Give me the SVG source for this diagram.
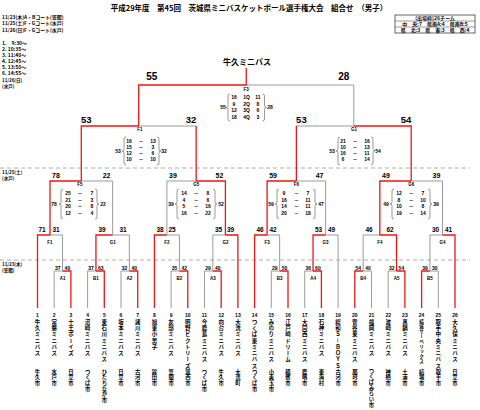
<svg xmlns="http://www.w3.org/2000/svg" width="480" height="410" viewBox="0 0 480 410">
<style>
.r{stroke:#f01414;stroke-width:1.3;fill:none}
.g{stroke:#9a9a9a;stroke-width:1;fill:none}
.d{stroke:#999;stroke-width:0.8;stroke-dasharray:4 3;fill:none}
.br{stroke:#555;stroke-width:0.6;fill:none}
.n{font-family:"Liberation Sans","Noto Sans CJK JP",sans-serif;font-weight:bold;fill:#000;text-anchor:middle}
.j{font-family:"Noto Sans CJK JP","Noto Sans CJK SC",sans-serif;font-weight:bold;fill:#000}
.s10{font-size:10px}.s9{font-size:9.5px}.s7{font-size:7px}.s65{font-size:6.5px}.s5{font-size:5px}.s45{font-size:4.5px}
.v{writing-mode:vertical-rl;font-size:5.5px;letter-spacing:0.75px}
.c{writing-mode:vertical-rl;font-size:5.3px;letter-spacing:0.35px}
.q{font-family:"Liberation Sans","Noto Sans CJK JP",sans-serif;font-weight:bold;font-size:5px;text-anchor:middle}
</style>
<rect width="480" height="410" fill="#fff"/>
<g id="header">
<text class="j" x="249" y="11" font-size="7.5" text-anchor="middle">平成29年度　第45回　茨城県ミニバスケットボール選手権大会　組合せ　（男子）</text>
<text class="j" x="2" y="18.5" font-size="4.9">11/23(木)A・Bコート(笠間)</text>
<text class="j" x="2" y="25" font-size="4.9">11/25(土)F・Gコート(水戸)</text>
<text class="j" x="2" y="31.5" font-size="4.9">11/26(日)F・Gコート(水戸)</text>
<text class="j" x="2" y="45" font-size="5">1.　9:30～</text>
<text class="j" x="2" y="51" font-size="5">2. 10:35～</text>
<text class="j" x="2" y="57" font-size="5">3. 11:40～</text>
<text class="j" x="2" y="63" font-size="5">4. 12:45～</text>
<text class="j" x="2" y="69" font-size="5">5. 13:50～</text>
<text class="j" x="2" y="75" font-size="5">6. 14:55～</text>
<text class="j" x="2" y="82" font-size="4.5">11/26(日)</text>
<text class="j" x="2" y="88" font-size="4.5">(水戸)</text>
<text class="j" x="2" y="174" font-size="4.5">11/25(土)</text>
<text class="j" x="2" y="180" font-size="4.5">(水戸)</text>
<text class="j" x="2" y="266" font-size="4.5">11/23(木)</text>
<text class="j" x="2" y="272" font-size="4.5">(笠間)</text>
</g>
<g id="quota">
<rect x="395" y="15" width="80" height="18" fill="none" stroke="#000" stroke-width="0.6"/>
<path d="M395,21H475M395,27H475" stroke="#000" stroke-width="0.4"/>
<text class="j" x="435" y="20" font-size="5" text-anchor="middle">(出場枠)26チーム</text>
<text class="j" x="435" y="26" font-size="5" text-anchor="middle">中　央:7　県南A:4　県南B:5</text>
<text class="j" x="435" y="32" font-size="5" text-anchor="middle">県　北:3　県　東:3　県　西:4</text>
</g>
<g id="champion">
<text class="j" x="247" y="65" font-size="8" text-anchor="middle">牛久ミニバス</text>
</g>
<g id="dividers">
<path class="d" d="M0,168H470M0,260H470"/>
</g>
<g id="connectors">
<path class="g" d="M54.2,308V271H62.55M87.6,308V271H95.95M121,308V271H129.35M171.1,308V271H179.45M204.5,308V271H212.85M271.3,308V271H279.65M304.7,308V271H313.05M363.15,271H371.5V308M388.2,308V271H396.55M429.95,271H438.3V308"/>
<path class="r" d="M62.55,271H70.9V308M95.95,271H104.3V308M129.35,271H137.7V308M179.45,271H187.8V308M212.85,271H221.2V308M279.65,271H288V308M313.05,271H321.4V308M354.8,308V271H363.15M396.55,271H404.9V308M421.6,308V271H429.95"/>
<path class="g" d="M50,235H62.55V271M112.65,235H129.35V271M166.9,235H179.45V271M212.85,271V235H225.4M267.1,235H279.65V271M325.6,235H338.1V308M363.15,271V235H379.85M429.95,271V235H442.5"/>
<path class="r" d="M37.5,308V235H50M95.95,271V235H112.65M154.4,308V235H166.9M225.4,235H237.9V308M254.6,308V235H267.1M313.05,271V235H325.6M379.85,235H396.55V271M442.5,235H455V308"/>
<path class="g" d="M81.3,181H112.65V235M166.9,235V181H196.15M296.35,181H325.6V235M411.2,181H442.5V235"/>
<path class="r" d="M50,235V181H81.3M196.15,181H225.4V235M267.1,235V181H296.35M379.85,235V181H411.2"/>
<path class="g" d="M138.7,126H196.15M296.35,126H353.8"/>
<path class="r" d="M81.3,181V126H138.7M353.8,126H411.2V181M196.15,126V181M296.35,126V181"/>
<path class="g" d="M246.25,85H353.8V126"/>
<path class="r" d="M138.7,126V85H246.25V68"/>
</g>
<g id="final">
<text class="n s10" x="151.7" y="80">55</text><text class="n s10" x="343.8" y="80">28</text>
<text class="n s45" x="246.25" y="90.5">F3</text>
<text class="q" x="223" y="109.3">55</text><text class="q" x="270" y="109.3">28</text>
<path class="br" d="M230,94Q228,94 228,96V105.5Q228,107.5 226,107.5Q228,107.5 228,109.5V119Q228,121 230,121"/>
<path class="br" d="M262.5,94Q264.5,94 264.5,96V105.5Q264.5,107.5 266.5,107.5Q264.5,107.5 264.5,109.5V119Q264.5,121 262.5,121"/>
<text class="q" x="234" y="99.3">16</text><text class="q" x="246.5" y="99.3">1Q</text><text class="q" x="258" y="99.3">11</text>
<text class="q" x="234" y="105.8">9</text><text class="q" x="246.5" y="105.8">2Q</text><text class="q" x="258" y="105.8">8</text>
<text class="q" x="234" y="112.3">12</text><text class="q" x="246.5" y="112.3">3Q</text><text class="q" x="258" y="112.3">6</text>
<text class="q" x="234" y="118.8">18</text><text class="q" x="246.5" y="118.8">4Q</text><text class="q" x="258" y="118.8">3</text>
</g>
<g id="semi-F1">
<text class="n s9" x="86.3" y="122.5">53</text><text class="n s9" x="191" y="122.5">32</text>
<text class="n s45" x="140" y="131">F1</text>
<text class="q" x="118" y="152.8">53</text><text class="q" x="164" y="152.8">32</text>
<path class="br" d="M126,137Q124,137 124,139V149Q124,151 122,151Q124,151 124,153V163Q124,165 126,165"/>
<path class="br" d="M157,137Q159,137 159,139V149Q159,151 161,151Q159,151 159,153V163Q159,165 157,165"/>
<text class="q" x="129" y="142.8">16</text><text class="q" x="141" y="142.8">－</text><text class="q" x="153" y="142.8">13</text>
<text class="q" x="129" y="148.8">15</text><text class="q" x="141" y="148.8">－</text><text class="q" x="153" y="148.8">3</text>
<text class="q" x="129" y="154.8">12</text><text class="q" x="141" y="154.8">－</text><text class="q" x="153" y="154.8">6</text>
<text class="q" x="129" y="160.8">10</text><text class="q" x="141" y="160.8">－</text><text class="q" x="153" y="160.8">10</text>
</g>
<g id="semi-G1">
<text class="n s9" x="301.4" y="122.5">53</text><text class="n s9" x="406" y="122.5">54</text>
<text class="n s45" x="354" y="131">G1</text>
<text class="q" x="332" y="152.8">53</text><text class="q" x="378" y="152.8">54</text>
<path class="br" d="M340,137Q338,137 338,139V149Q338,151 336,151Q338,151 338,153V163Q338,165 340,165"/>
<path class="br" d="M371,137Q373,137 373,139V149Q373,151 375,151Q373,151 373,153V163Q373,165 371,165"/>
<text class="q" x="343" y="142.8">21</text><text class="q" x="355" y="142.8">－</text><text class="q" x="367" y="142.8">16</text>
<text class="q" x="343" y="148.8">10</text><text class="q" x="355" y="148.8">－</text><text class="q" x="367" y="148.8">13</text>
<text class="q" x="343" y="154.8">16</text><text class="q" x="355" y="154.8">－</text><text class="q" x="367" y="154.8">11</text>
<text class="q" x="343" y="160.8">6</text><text class="q" x="355" y="160.8">－</text><text class="q" x="367" y="160.8">14</text>
</g>
<g id="F5">
<text class="n s7" x="56" y="177.5">78</text><text class="n s7" x="106.6" y="177.5">22</text>
<text class="n s45" x="80" y="186">F5</text>
<text class="q" x="54" y="205.8">78</text><text class="q" x="103" y="205.8">22</text>
<path class="br" d="M63,189Q61,189 61,191V202Q61,204 59,204Q61,204 61,206V217Q61,219 63,219"/>
<path class="br" d="M95,189Q97,189 97,191V202Q97,204 99,204Q97,204 97,206V217Q97,219 95,219"/>
<text class="q" x="68" y="195.3">25</text><text class="q" x="80" y="195.3">－</text><text class="q" x="92" y="195.3">7</text>
<text class="q" x="68" y="201.8">21</text><text class="q" x="80" y="201.8">－</text><text class="q" x="92" y="201.8">3</text>
<text class="q" x="68" y="208.3">20</text><text class="q" x="80" y="208.3">－</text><text class="q" x="92" y="208.3">8</text>
<text class="q" x="68" y="214.8">12</text><text class="q" x="80" y="214.8">－</text><text class="q" x="92" y="214.8">4</text>
</g>
<g id="G5">
<text class="n s7" x="172.9" y="177.5">39</text><text class="n s7" x="219.4" y="177.5">52</text>
<text class="n s45" x="196.2" y="186">G5</text>
<text class="q" x="171" y="205.8">39</text><text class="q" x="221" y="205.8">52</text>
<path class="br" d="M179,189Q177,189 177,191V202Q177,204 175,204Q177,204 177,206V217Q177,219 179,219"/>
<path class="br" d="M213,189Q215,189 215,191V202Q215,204 217,204Q215,204 215,206V217Q215,219 213,219"/>
<text class="q" x="184" y="195.3">14</text><text class="q" x="196.2" y="195.3">－</text><text class="q" x="208" y="195.3">8</text>
<text class="q" x="184" y="201.8">4</text><text class="q" x="196.2" y="201.8">－</text><text class="q" x="208" y="201.8">6</text>
<text class="q" x="184" y="208.3">5</text><text class="q" x="196.2" y="208.3">－</text><text class="q" x="208" y="208.3">16</text>
<text class="q" x="184" y="214.8">16</text><text class="q" x="196.2" y="214.8">－</text><text class="q" x="208" y="214.8">22</text>
</g>
<g id="F6">
<text class="n s7" x="273.1" y="177.5">59</text><text class="n s7" x="319.6" y="177.5">47</text>
<text class="n s45" x="296.4" y="186">F6</text>
<text class="q" x="271" y="205.8">59</text><text class="q" x="321" y="205.8">47</text>
<path class="br" d="M279,189Q277,189 277,191V202Q277,204 275,204Q277,204 277,206V217Q277,219 279,219"/>
<path class="br" d="M313,189Q315,189 315,191V202Q315,204 317,204Q315,204 315,206V217Q315,219 313,219"/>
<text class="q" x="284" y="195.3">9</text><text class="q" x="296.4" y="195.3">－</text><text class="q" x="308" y="195.3">7</text>
<text class="q" x="284" y="201.8">16</text><text class="q" x="296.4" y="201.8">－</text><text class="q" x="308" y="201.8">11</text>
<text class="q" x="284" y="208.3">14</text><text class="q" x="296.4" y="208.3">－</text><text class="q" x="308" y="208.3">11</text>
<text class="q" x="284" y="214.8">20</text><text class="q" x="296.4" y="214.8">－</text><text class="q" x="308" y="214.8">18</text>
</g>
<g id="G6">
<text class="n s7" x="385.9" y="177.5">49</text><text class="n s7" x="436.5" y="177.5">39</text>
<text class="n s45" x="411.2" y="186">G6</text>
<text class="q" x="386" y="205.8">49</text><text class="q" x="436" y="205.8">39</text>
<path class="br" d="M394,189Q392,189 392,191V202Q392,204 390,204Q392,204 392,206V217Q392,219 394,219"/>
<path class="br" d="M428,189Q430,189 430,191V202Q430,204 432,204Q430,204 430,206V217Q430,219 428,219"/>
<text class="q" x="399" y="195.3">12</text><text class="q" x="411.2" y="195.3">－</text><text class="q" x="423" y="195.3">7</text>
<text class="q" x="399" y="201.8">8</text><text class="q" x="411.2" y="201.8">－</text><text class="q" x="423" y="201.8">10</text>
<text class="q" x="399" y="208.3">10</text><text class="q" x="411.2" y="208.3">－</text><text class="q" x="423" y="208.3">8</text>
<text class="q" x="399" y="214.8">19</text><text class="q" x="411.2" y="214.8">－</text><text class="q" x="423" y="214.8">14</text>
</g>
<g id="r2-F1"><text class="n s65" x="42" y="231.5">71</text><text class="n s65" x="56" y="231.5">31</text><text class="n s45" x="50" y="243.5">F1</text></g>
<g id="r2-G1"><text class="n s65" x="102" y="231.5">39</text><text class="n s65" x="123" y="231.5">31</text><text class="n s45" x="112.7" y="243.5">G1</text></g>
<g id="r2-F2"><text class="n s65" x="160" y="231.5">38</text><text class="n s65" x="172" y="231.5">25</text><text class="n s45" x="166.9" y="243.5">F2</text></g>
<g id="r2-G2"><text class="n s65" x="218.5" y="231.5">35</text><text class="n s65" x="230.5" y="231.5">39</text><text class="n s45" x="225.4" y="243.5">G2</text></g>
<g id="r2-F3"><text class="n s65" x="260" y="231.5">46</text><text class="n s65" x="273" y="231.5">42</text><text class="n s45" x="267.1" y="243.5">F3</text></g>
<g id="r2-G3"><text class="n s65" x="318.5" y="231.5">53</text><text class="n s65" x="331.5" y="231.5">49</text><text class="n s45" x="325.6" y="243.5">G3</text></g>
<g id="r2-F4"><text class="n s65" x="369" y="231.5">46</text><text class="n s65" x="390" y="231.5">62</text><text class="n s45" x="379.9" y="243.5">F4</text></g>
<g id="r2-G4"><text class="n s65" x="435.5" y="231.5">30</text><text class="n s65" x="448.5" y="231.5">41</text><text class="n s45" x="442.5" y="243.5">G4</text></g>
<g id="r1-A1"><text class="n s5" x="57.7" y="269.5">37</text><text class="n s5" x="67.4" y="269.5">40</text><text class="n s45" x="62.6" y="280">A1</text></g>
<g id="r1-B1"><text class="n s5" x="91.1" y="269.5">37</text><text class="n s5" x="100.8" y="269.5">63</text><text class="n s45" x="96" y="280">B1</text></g>
<g id="r1-A2"><text class="n s5" x="124.5" y="269.5">32</text><text class="n s5" x="134.2" y="269.5">40</text><text class="n s45" x="129.4" y="280">A2</text></g>
<g id="r1-B2"><text class="n s5" x="174.6" y="269.5">35</text><text class="n s5" x="184.3" y="269.5">42</text><text class="n s45" x="179.5" y="280">B2</text></g>
<g id="r1-A3"><text class="n s5" x="208" y="269.5">29</text><text class="n s5" x="217.7" y="269.5">40</text><text class="n s45" x="212.9" y="280">A3</text></g>
<g id="r1-B3"><text class="n s5" x="274.8" y="269.5">29</text><text class="n s5" x="284.5" y="269.5">50</text><text class="n s45" x="279.7" y="280">B3</text></g>
<g id="r1-A4"><text class="n s5" x="308.2" y="269.5">36</text><text class="n s5" x="317.9" y="269.5">60</text><text class="n s45" x="313.1" y="280">A4</text></g>
<g id="r1-B4"><text class="n s5" x="358.3" y="269.5">54</text><text class="n s5" x="368" y="269.5">40</text><text class="n s45" x="363.2" y="280">B4</text></g>
<g id="r1-A5"><text class="n s5" x="391.7" y="269.5">32</text><text class="n s5" x="401.4" y="269.5">54</text><text class="n s45" x="396.6" y="280">A5</text></g>
<g id="r1-B5"><text class="n s5" x="425.1" y="269.5">39</text><text class="n s5" x="434.8" y="269.5">30</text><text class="n s45" x="430" y="280">B5</text></g>
<g id="teams" class="j">
<g id="team-1"><text class="n s5" x="37.5" y="316.5">1</text><text class="j v" x="37.5" y="319">牛久ミニバス</text><text class="j c" x="37.5" y="369">牛久市</text></g>
<g id="team-2"><text class="n s5" x="54.2" y="316.5">2</text><text class="j v" x="54.2" y="319">常磐ミニバス</text><text class="j c" x="54.2" y="369">水戸市</text></g>
<g id="team-3"><text class="n s5" x="70.9" y="316.5">3</text><text class="j v" x="70.9" y="319">十王ボーイズ</text><text class="j c" x="70.9" y="369">日立市</text></g>
<g id="team-4"><text class="n s5" x="87.6" y="316.5">4</text><text class="j v" x="87.6" y="319">沼崎ミニバス</text><text class="j c" x="87.6" y="369">つくば市</text></g>
<g id="team-5"><text class="n s5" x="104.3" y="316.5">5</text><text class="j v" x="104.3" y="319">東石川ミニバス</text><text class="j c" x="104.3" y="369">ひたちなか市</text></g>
<g id="team-6"><text class="n s5" x="121" y="316.5">6</text><text class="j v" x="121" y="319">坂本ミニバス</text><text class="j c" x="121" y="369">日立市</text></g>
<g id="team-7"><text class="n s5" x="137.7" y="316.5">7</text><text class="j v" x="137.7" y="319">諸川ミニバス</text><text class="j c" x="137.7" y="369">古河市</text></g>
<g id="team-8"><text class="n s5" x="154.4" y="316.5">8</text><text class="j v" x="154.4" y="319">旭東小男子</text><text class="j c" x="154.4" y="369">鉾田市</text></g>
<g id="team-9"><text class="n s5" x="171.1" y="316.5">9</text><text class="j v" x="171.1" y="319">友部ミニバス</text><text class="j c" x="171.1" y="369">笠間市</text></g>
<g id="team-10"><text class="n s5" x="187.8" y="316.5">10</text><text class="j v" x="187.8" y="319">明野ビクトリーズ</text><text class="j c" x="187.8" y="369">筑西市</text></g>
<g id="team-11"><text class="n s5" x="204.5" y="316.5">11</text><text class="j v" x="204.5" y="319">今鹿島ミニバス</text><text class="j c" x="204.5" y="369">つくば市</text></g>
<g id="team-12"><text class="n s5" x="221.2" y="316.5">12</text><text class="j v" x="221.2" y="319">向台ミニバス</text><text class="j c" x="221.2" y="369">牛久市</text></g>
<g id="team-13"><text class="n s5" x="237.9" y="316.5">13</text><text class="j v" x="237.9" y="319">大洗ミニバス</text><text class="j c" x="237.9" y="369">大洗町</text></g>
<g id="team-14"><text class="n s5" x="254.6" y="316.5">14</text><text class="j v" x="254.6" y="319">つくば東ミニバス</text><text class="j c" x="254.6" y="369">つくば市</text></g>
<g id="team-15"><text class="n s5" x="271.3" y="316.5">15</text><text class="j v" x="271.3" y="319">みのりミニバス</text><text class="j c" x="271.3" y="369">小美玉市</text></g>
<g id="team-16"><text class="n s5" x="288" y="316.5">16</text><text class="j v" x="288" y="319">江戸崎ドリーム</text><text class="j c" x="288" y="369">稲敷市</text></g>
<g id="team-17"><text class="n s5" x="304.7" y="316.5">17</text><text class="j v" x="304.7" y="319">大同西ミニバス</text><text class="j c" x="304.7" y="369">鹿嶋市</text></g>
<g id="team-18"><text class="n s5" x="321.4" y="316.5">18</text><text class="j v" x="321.4" y="319">石神ミニバス</text><text class="j c" x="321.4" y="369">東海村</text></g>
<g id="team-19"><text class="n s5" x="338.1" y="316.5">19</text><text class="j v" x="338.1" y="319">総和Ｓ－ＢＯＹＳ</text><text class="j c" x="338.1" y="369">古河市</text></g>
<g id="team-20"><text class="n s5" x="354.8" y="316.5">20</text><text class="j v" x="354.8" y="319">菅谷東ミニバス</text><text class="j c" x="354.8" y="369">那珂市</text></g>
<g id="team-21"><text class="n s5" x="371.5" y="316.5">21</text><text class="j v" x="371.5" y="319">福岡ミニバス</text><text class="j c" x="371.5" y="368">つくばみらい市</text></g>
<g id="team-22"><text class="n s5" x="388.2" y="316.5">22</text><text class="j v" x="388.2" y="319">波崎ミニバス</text><text class="j c" x="388.2" y="369">神栖市</text></g>
<g id="team-23"><text class="n s5" x="404.9" y="316.5">23</text><text class="j v" x="404.9" y="319">真鍋ミニバス</text><text class="j c" x="404.9" y="369">土浦市</text></g>
<g id="team-24"><text class="n s5" x="421.6" y="316.5">24</text><text class="j v" x="421.6" y="319" style="font-size:4.6px;letter-spacing:0.4px">結城サーベリックス</text><text class="j c" x="421.6" y="369">結城市</text></g>
<g id="team-25"><text class="n s5" x="438.3" y="316.5">25</text><text class="j v" x="438.3" y="319">取手中央ミニバス</text><text class="j c" x="438.3" y="369">取手市</text></g>
<g id="team-26"><text class="n s5" x="455" y="316.5">26</text><text class="j v" x="455" y="319">大久保ミニバス</text><text class="j c" x="455" y="369">日立市</text></g>
</g>
</svg>
